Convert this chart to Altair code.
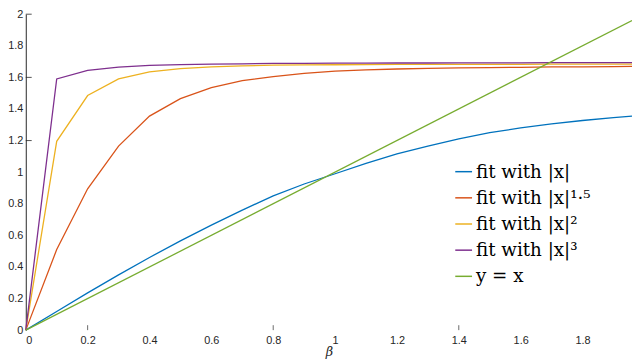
import altair as alt
import pandas as pd

# ---- data ----
x_vals = [0, 0.1, 0.2, 0.3, 0.4, 0.5, 0.6, 0.7, 0.8, 0.9, 1.0,
          1.1, 1.2, 1.3, 1.4, 1.5, 1.6, 1.7, 1.8, 1.9, 1.96]
fit_abs = [0, 0.118, 0.236, 0.35, 0.46, 0.565, 0.665, 0.76, 0.85, 0.925, 0.99,
           1.055, 1.116, 1.165, 1.21, 1.25, 1.28, 1.305, 1.327, 1.345, 1.355]
fit_15 = [0, 0.51, 0.895, 1.165, 1.355, 1.465, 1.535, 1.58, 1.605, 1.625, 1.64,
          1.648, 1.653, 1.657, 1.66, 1.662, 1.664, 1.666, 1.667, 1.668, 1.669]
fit_2 = [0, 1.195, 1.485, 1.59, 1.635, 1.655, 1.667, 1.673, 1.677, 1.679, 1.68,
         1.681, 1.682, 1.682, 1.683, 1.683, 1.683, 1.684, 1.684, 1.684, 1.684]
fit_3 = [0, 1.59, 1.645, 1.665, 1.676, 1.681, 1.684, 1.686, 1.688, 1.689, 1.69,
         1.69, 1.691, 1.691, 1.692, 1.692, 1.692, 1.693, 1.693, 1.693, 1.693]
ident_x = [0, 1.96]
ident_y = [0, 1.96]

names = ["fit with |x|", "fit with |x|¹·⁵", "fit with |x|²", "fit with |x|³", "y = x"]
colors = ["#0072BD", "#D95319", "#EDB120", "#7E2F8E", "#77AC30"]

x_tick_labels = [0, 0.2, 0.4, 0.6, 0.8, 1.0, 1.2, 1.4, 1.6, 1.8]
y_tick_labels = [0, 0.2, 0.4, 0.6, 0.8, 1.0, 1.2, 1.4, 1.6, 1.8, 2.0]
x_tick_marks = [0.2, 0.8, 1.4]
y_tick_marks = [1.2, 1.6, 2.0]

rows = []
for name, ys in zip(names[:4], [fit_abs, fit_15, fit_2, fit_3]):
    for i, (xv, yv) in enumerate(zip(x_vals, ys)):
        rows.append({"series": name, "x": xv, "y": yv, "k": i})
for i, (xv, yv) in enumerate(zip(ident_x, ident_y)):
    rows.append({"series": names[4], "x": xv, "y": yv, "k": i})
df = pd.DataFrame(rows)

SERIF = "DejaVu Serif"
W, H = 614, 320
xscale = alt.Scale(domain=[0, 1.96], nice=False, zero=False)
yscale = alt.Scale(domain=[0, 2], nice=False, zero=False)

xaxis = alt.Axis(values=x_tick_labels, format="~g", domain=False, ticks=False,
                 grid=False, labelPadding=5, labelOverlap=False, title="β",
                 titleFont=SERIF, titleFontStyle="italic",
                 titleFontWeight="normal", titleFontSize=13,
                 titleColor="#262626", titlePadding=0)
yaxis = alt.Axis(values=y_tick_labels, format="~g", domain=True, ticks=False,
                 grid=False, labelPadding=3, labelOverlap=False, title=None,
                 domainColor="#262626", domainWidth=1)

lines = alt.Chart(df).mark_line(strokeWidth=1.3).encode(
    x=alt.X("x:Q", scale=xscale, axis=xaxis),
    y=alt.Y("y:Q", scale=yscale, axis=yaxis),
    color=alt.Color("series:N", scale=alt.Scale(domain=names, range=colors),
                    legend=alt.Legend(title=None, orient="none", legendX=434, legendY=150,
                                      labelFont=SERIF, labelFontSize=18.5,
                                      labelColor="black", symbolType="stroke",
                                      symbolSize=289, symbolStrokeWidth=1.5,
                                      labelOffset=3, rowPadding=7.5, padding=0,
                                      labelLimit=300)),
    order=alt.Order("k:Q"),
)

ytk = alt.Chart(pd.DataFrame({"y": y_tick_marks})).mark_rule(
    color="#262626", strokeWidth=0.8).encode(
    y=alt.Y("y:Q", scale=yscale, axis=yaxis), x=alt.value(0), x2=alt.value(6))

xtk = alt.Chart(pd.DataFrame({"x": x_tick_marks})).mark_rule(
    color="#444444", strokeWidth=0.8).encode(
    x=alt.X("x:Q", scale=xscale, axis=xaxis), y=alt.value(H), y2=alt.value(H - 5))

chart = alt.layer(lines, ytk, xtk).properties(
    width=W, height=H,
    autosize="none",
    padding={"left": 18, "top": 4, "right": 0, "bottom": 30},
    background="white",
).configure_view(stroke=None).configure_axis(
    labelFont="Liberation Sans", labelFontSize=11, labelColor="#262626",
    labelOverlap=False,
)

chart.save("out.html", embed_options={"renderer": "svg", "actions": False})
